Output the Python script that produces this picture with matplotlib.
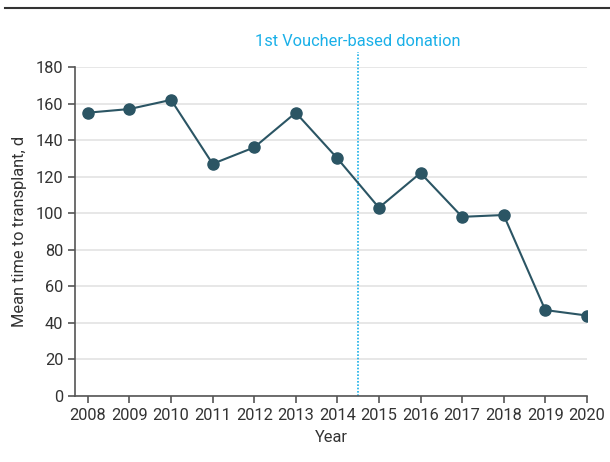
import matplotlib.pyplot as plt
from matplotlib.lines import Line2D

plt.rcParams['font.family'] = ['Roboto', 'DejaVu Sans']

# Données
years = [2008, 2009, 2010, 2011, 2012, 2013, 2014, 2015, 2016, 2017, 2018, 2019, 2020]
mean_days = [155, 157, 162, 127, 136, 155, 130, 103, 122, 98, 99, 47, 44]
voucher_year = 2014.5
voucher_label = '1st Voucher-based donation'

line_color = '#2b5564'
blue = '#1ab0e8'
text_color = '#333333'

fig = plt.figure(figsize=(6.1, 4.62), dpi=100)
ax = fig.add_axes([0.123, 0.143, 0.839, 0.712])

ax.plot(years, mean_days, color=line_color, lw=1.5, marker='o', ms=8, zorder=3)

ax.set_xlim(2007.69, 2020)
ax.set_ylim(0, 180)
ax.set_yticks(range(0, 181, 20))
ax.set_xticks(years)
ax.yaxis.grid(True, color='#e3e3e3', lw=1.2)
ax.set_axisbelow(True)

for s in ['top', 'right']:
    ax.spines[s].set_visible(False)
for s in ['left', 'bottom']:
    ax.spines[s].set_color('#555555')
    ax.spines[s].set_linewidth(1.2)
ax.tick_params(colors='#555555', labelcolor=text_color, labelsize=11.8, length=5, width=1.2)

ax.set_xlabel('Year', fontsize=11.8, color=text_color, labelpad=5)
ax.set_ylabel('Mean time to transplant, d', fontsize=11.8, color=text_color, labelpad=6)

# Ligne verticale du premier don
ax.plot([voucher_year, voucher_year], [0, 188], color=blue, lw=1.2, ls=(0, (1, 1)), clip_on=False)
ax.text(voucher_year, 190, voucher_label, color=blue, fontsize=11.8, ha='center', va='bottom')

# Trait horizontal en haut
fig.add_artist(Line2D([0.008, 1.0], [0.983, 0.983], color='#333333', lw=1.5))

fig.savefig('out.png', dpi=100)
